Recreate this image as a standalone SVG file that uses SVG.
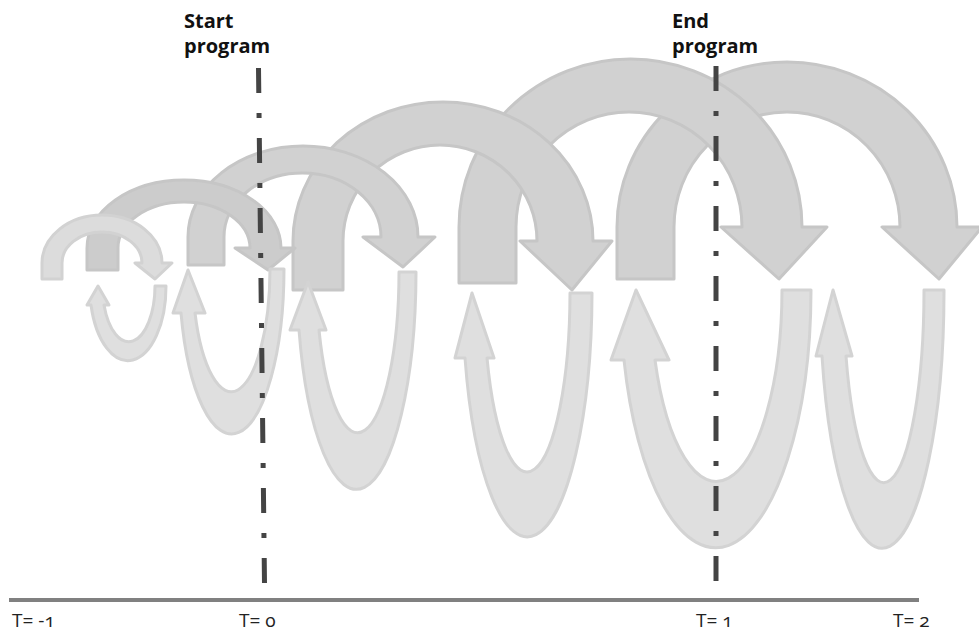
<svg xmlns="http://www.w3.org/2000/svg" width="979" height="632" viewBox="0 0 979 632">
  <style>
    .arc { fill: #d1d1d1; stroke: #c6c6c6; stroke-width: 3; stroke-linejoin: round; }
    .arc-dark { fill: #cccccc; }
    .arc-light { fill: #dcdcdc; stroke: #d2d2d2; }
    .uturn { fill: #dfdfdf; stroke: #d3d3d3; stroke-width: 3; stroke-linejoin: round; }
    .guide { fill: none; stroke: #444444; stroke-width: 5; stroke-dasharray: 25 20 5 20; }
    .axis { fill: none; stroke: #808080; stroke-width: 4; }
    .title { font-family: "Open Sans", "Noto Sans", sans-serif; font-weight: 700; font-size: 20px; fill: #111111; }
    .label { font-family: "Open Sans", "Noto Sans", sans-serif; font-size: 19px; fill: #222222; font-variant-numeric: oldstyle-nums; }
  </style>

  <!-- over-arching arrows: largest at the back, smaller ones stacked in front -->
  <g id="arc-6">
    <path class="arc" d="M617,279 L617,227 A170,165 0 0 1 957,227 L982,227 L939,279 L882,227 L900,227 A113,115 0 0 0 674,227 L674,279 Z"/>
  </g>
  <g id="arc-5">
    <path class="arc" d="M459,283 L459,227 A171.5,168 0 0 1 802,227 L827,227 L779,279 L721,227 L742,227 A113,115 0 0 0 516,227 L516,283 Z"/>
  </g>
  <g id="arc-4">
    <path class="arc" d="M293,290 L293,241 A150,139 0 0 1 593,241 L612,241 L572,290 L520,241 L537,241 A97,96 0 0 0 343,241 L343,290 Z"/>
  </g>
  <g id="arc-3">
    <path class="arc" d="M188,265 L188,237 A115,91 0 0 1 418,237 L435,237 L403,267 L363,237 L381,237 A78.5,64 0 0 0 224,237 L224,265 Z"/>
  </g>
  <g id="arc-2">
    <path class="arc arc-dark" d="M87,270 L87,248 A97,68 0 0 1 281,248 L295,248 L268,270 L235,248 L250,248 A66,46 0 0 0 118,248 L118,270 Z"/>
  </g>
  <g id="arc-1">
    <path class="arc arc-light" d="M42,279 L42,263 A60,48 0 0 1 162,263 L172,263 L155,279 L135,263 L142,263 A40,31 0 0 0 62,263 L62,279 Z"/>
  </g>

  <!-- U-turn arrows underneath -->
  <g id="uturn-1">
    <path class="uturn" d="M166,286 A38.1,74 0 0 1 91,305 L87,305 L98,286 L109,305 L104,305 A26.3,56 0 0 0 155,286 Z"/>
  </g>
  <g id="uturn-2">
    <path class="uturn" d="M284,269 A52.45,165 0 0 1 181,313 L173,313 L188,270 L205,313 L195,313 A38.8,123 0 0 0 270,269 Z"/>
  </g>
  <g id="uturn-3">
    <path class="uturn" d="M416,272 A59.6,218 0 0 1 299,330 L290,330 L308,282 L326,330 L319,330 A41.4,161 0 0 0 399,272 Z"/>
  </g>
  <g id="uturn-4">
    <path class="uturn" d="M592,293 A64.7,245 0 0 1 465,358 L455,358 L472,293 L494,358 L487,358 A43,180 0 0 0 570,293 Z"/>
  </g>
  <g id="uturn-5">
    <path class="uturn" d="M811,290 A95.3,258 0 0 1 624,360 L611,360 L636,290 L669,360 L655,360 A65.8,192 0 0 0 782,290 Z"/>
  </g>
  <g id="uturn-6">
    <path class="uturn" d="M944,290 A62,257 0 0 1 822,356 L816,356 L833,290 L852,356 L846,356 A40.2,192 0 0 0 924,290 Z"/>
  </g>

  <!-- dash-dot markers for program start and end -->
  <g id="guides">
    <line class="guide" x1="258.5" y1="68" x2="264.5" y2="583"/>
    <line class="guide" x1="716" y1="66" x2="716" y2="581"/>
  </g>

  <g id="start-label">
    <text class="title" x="184" y="28">Start</text>
    <text class="title" x="184" y="53">program</text>
  </g>
  <g id="end-label">
    <text class="title" x="672" y="28">End</text>
    <text class="title" x="672" y="53">program</text>
  </g>

  <!-- time axis -->
  <g id="time-axis">
    <line class="axis" x1="9" y1="600" x2="919" y2="600"/>
    <text class="label" x="12" y="627">T= -1</text>
    <text class="label" x="239" y="627">T= 0</text>
    <text class="label" x="696" y="627">T= 1</text>
    <text class="label" x="893" y="627">T= 2</text>
  </g>
</svg>
